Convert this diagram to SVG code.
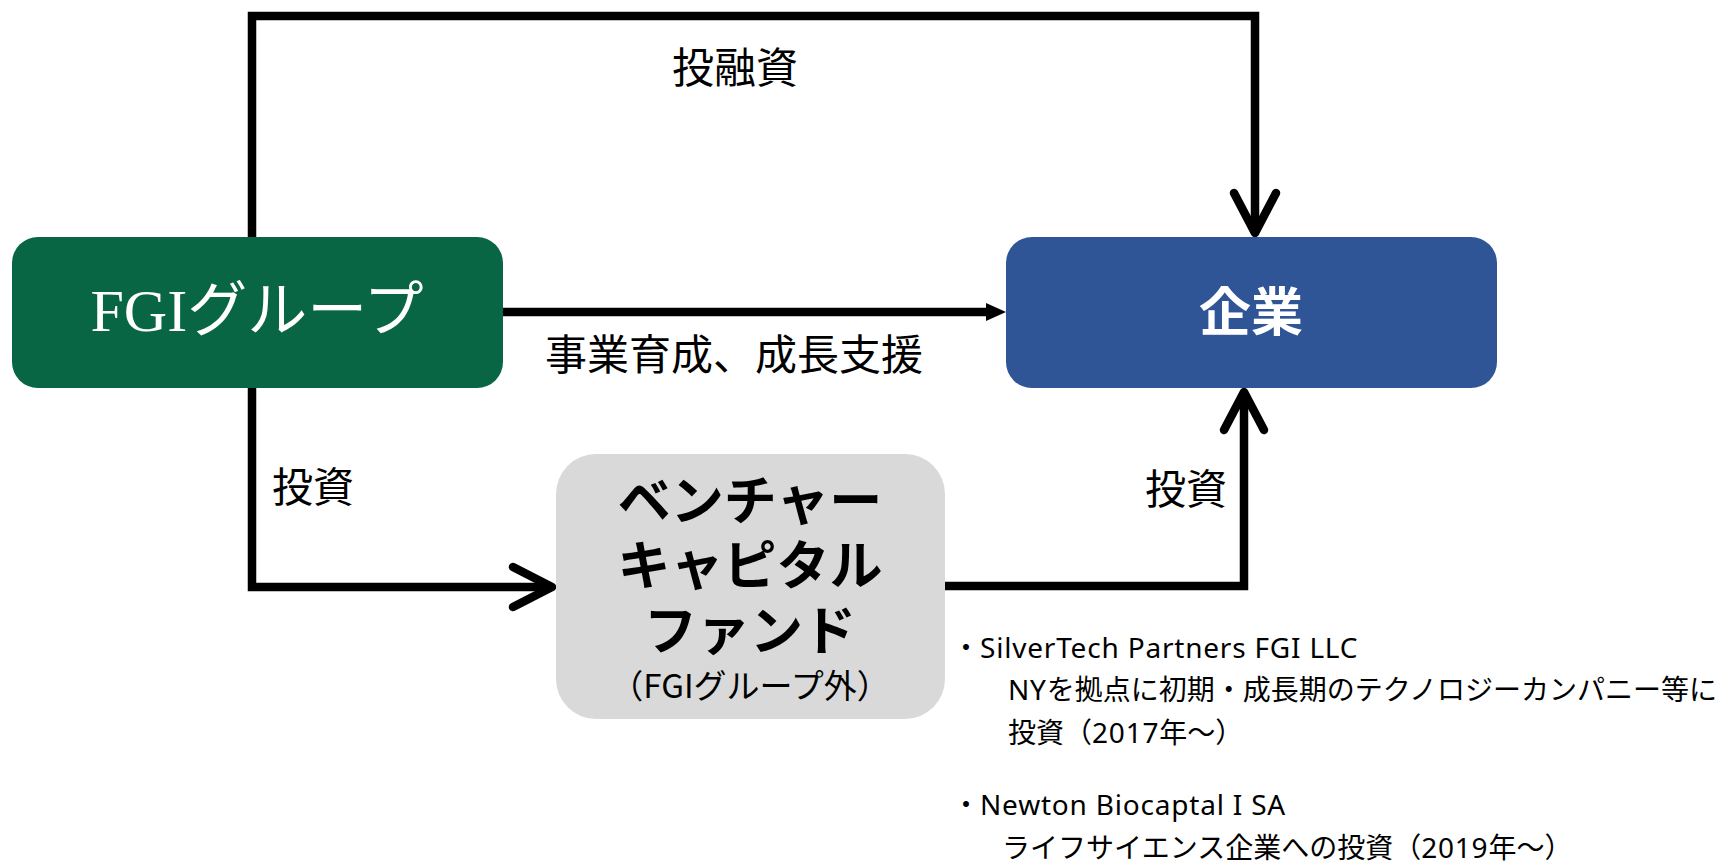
<svg xmlns="http://www.w3.org/2000/svg" width="1721" height="866" viewBox="0 0 1721 866">
<style>
.ja{font-family:"Noto Sans CJK JP","Noto Sans",sans-serif;fill:#000}
.la{font-family:"Noto Sans","Noto Sans CJK JP",sans-serif;letter-spacing:0.8px}
.ln{fill:none;stroke:#000;stroke-width:8.5;stroke-linejoin:miter}
.hd{fill:none;stroke:#000;stroke-width:8.5;stroke-linecap:round;stroke-linejoin:round}
</style>
<rect width="1721" height="866" fill="#fff"/>
<g id="connectors">
<path class="ln" d="M252 237 V16 H1255 V232"/>
<path class="hd" d="M1234 193 L1255 233 L1276 193"/>
<path class="ln" d="M503 312 H992"/>
<polygon points="986,303 1006,312 986,321" fill="#000"/>
<path class="ln" d="M252 388 V587 H551"/>
<path class="hd" d="M513 567 L552 587 L513 607"/>
<path class="ln" d="M945 586 H1244 V392"/>
<path class="hd" d="M1224 430 L1244 392 L1264 430"/>
<text class="ja" x="672" y="83" font-size="42">投融資</text>
<text class="ja" x="545" y="370" font-size="42">事業育成、成長支援</text>
<text class="ja" x="272" y="502" font-size="41">投資</text>
<text class="ja" x="1145" y="504" font-size="41">投資</text>
</g>
<g id="node-fgi">
<rect x="12" y="237" width="491" height="151" rx="26" fill="#086644"/>
<text x="257" y="331" text-anchor="middle" font-size="60" fill="#fff" font-family="'Liberation Serif','Noto Sans CJK JP',serif">FGIグループ</text>
</g>
<g id="node-kigyo">
<rect x="1006" y="237" width="491" height="151" rx="26" fill="#2f5597"/>
<text x="1251" y="331" text-anchor="middle" font-size="52" font-weight="bold" fill="#fff" font-family="'Noto Sans CJK JP',sans-serif">企業</text>
</g>
<g id="node-vc">
<rect x="556" y="454" width="389" height="265" rx="40" fill="#d9d9d9"/>
<text class="ja" x="750" y="520" text-anchor="middle" font-size="53" font-weight="bold">ベンチャー</text>
<text class="ja" x="750" y="585" text-anchor="middle" font-size="53" font-weight="bold">キャピタル</text>
<text class="ja" x="750" y="650" text-anchor="middle" font-size="53" font-weight="bold">ファンド</text>
<text class="ja" x="750" y="698" text-anchor="middle" font-size="33">（FGIグループ外）</text>
</g>
<g id="notes">
<text class="ja" x="952" y="658" font-size="28">・<tspan class="la">SilverTech Partners FGI LLC</tspan></text>
<text class="ja" x="1008" y="700" font-size="28"><tspan class="la">NY</tspan>を拠点に初期・成長期のテクノロジーカンパニー等に</text>
<text class="ja" x="1008" y="743" font-size="28">投資（<tspan class="la">2017</tspan>年～）</text>
<text class="ja" x="952" y="815" font-size="28">・<tspan class="la">Newton Biocaptal I SA</tspan></text>
<text class="ja" x="1002" y="858" font-size="28">ライフサイエンス企業への投資（<tspan class="la">2019</tspan>年～）</text>
</g>
</svg>
